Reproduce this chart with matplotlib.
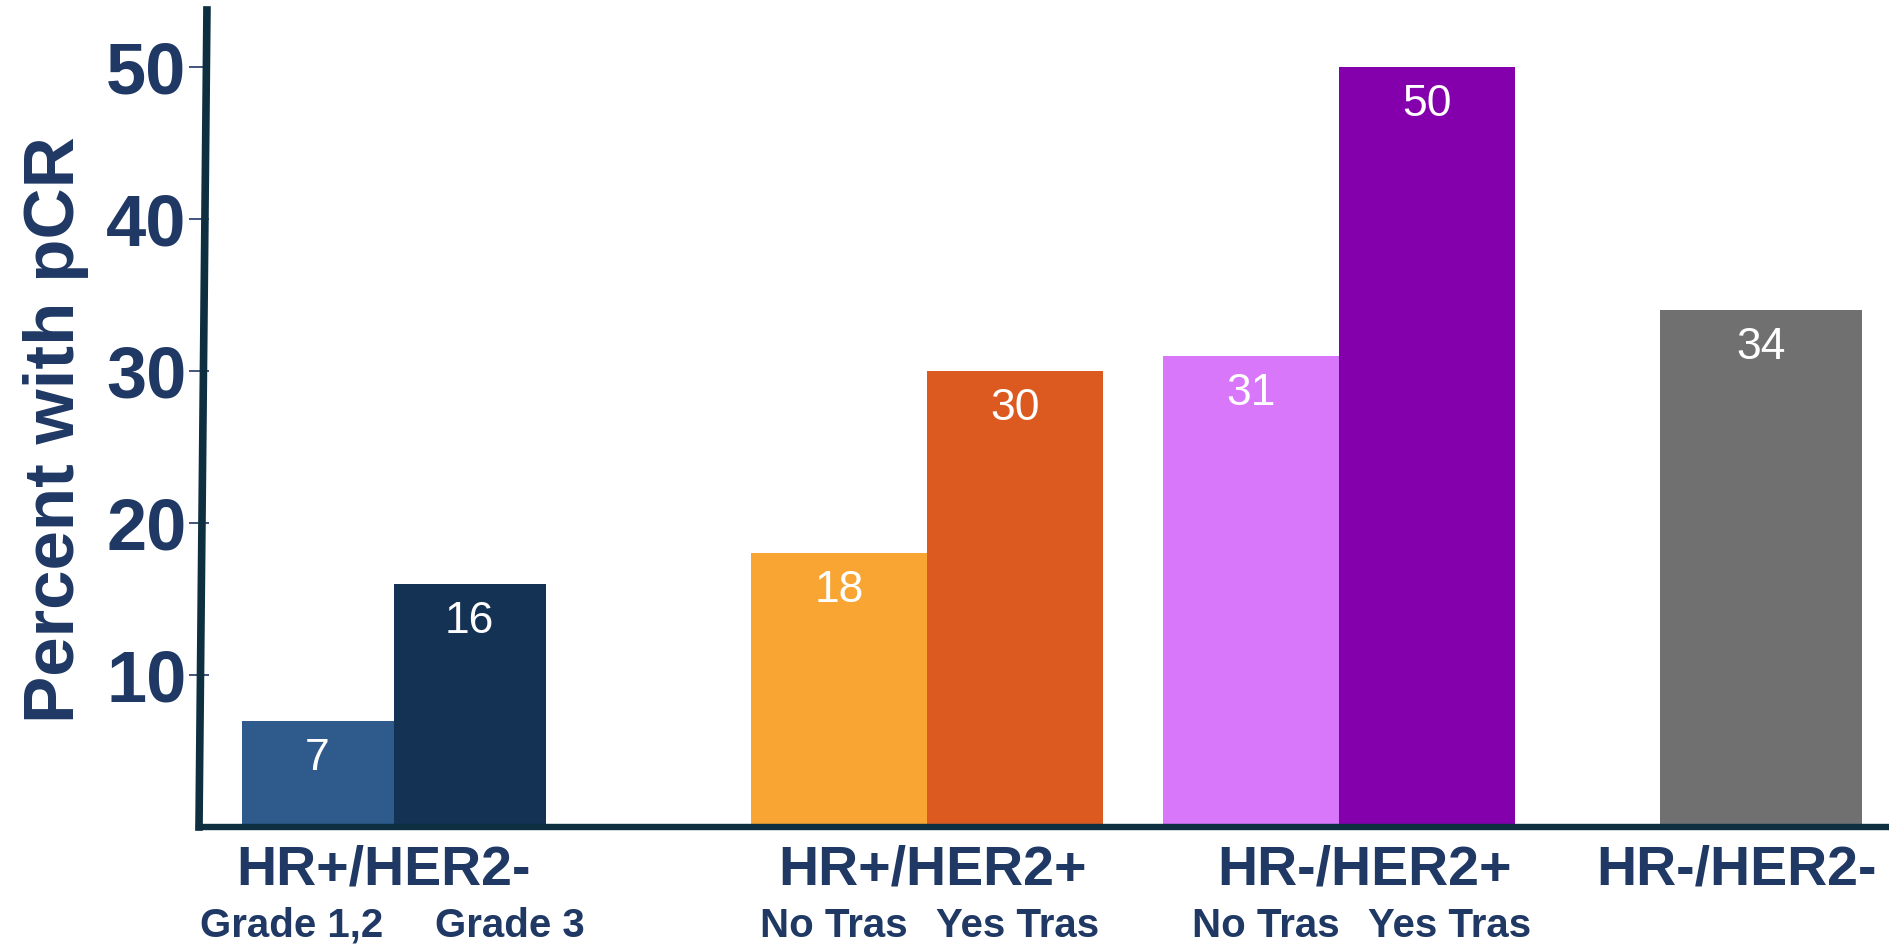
import matplotlib.pyplot as plt
from matplotlib.transforms import blended_transform_factory

# pCR rates by subtype
groups = ['HR+/HER2-', 'HR+/HER2+', 'HR-/HER2+', 'HR-/HER2-']
sub_labels = [['Grade 1,2', 'Grade 3'], ['No Tras', 'Yes Tras'], ['No Tras', 'Yes Tras'], []]
values = [[7, 16], [18, 30], [31, 50], [34]]
colors = [['#2e5a8c', '#133254'], ['#f9a533', '#dc5a20'], ['#d977fb', '#8400ad'], ['#707070']]

yticks = [10, 20, 30, 40, 50]

NAVY = '#1f3864'
AXIS = '#0e2f40'

# layout (x in axis units, 1 unit ~ 100 px)
group_centers = [1.945, 7.28, 11.40, 15.62]
bar_widths = [1.52, 1.76, 1.76, 2.02]
group_label_x = [1.85, 7.34, 11.66, 15.38]
sub_label_x = [[0.93, 3.11], [6.35, 8.19], [10.67, 12.51], []]

fig = plt.figure(figsize=(18.9, 9.48), dpi=100)
ax = fig.add_axes([199 / 1890, 121 / 948, 1691 / 1890, 817 / 948])

for g in range(len(groups)):
    n = len(values[g])
    w = bar_widths[g]
    left = group_centers[g] - n * w / 2
    for i in range(n):
        x = left + (i + 0.5) * w
        ax.bar(x, values[g][i], width=w, color=colors[g][i], zorder=1)
        ax.annotate(str(values[g][i]), (x, values[g][i]), xytext=(0, -27),
                    textcoords='offset points', ha='center', va='center',
                    color='white', fontsize=32, family='Liberation Sans')

trans = blended_transform_factory(ax.transData, ax.transAxes)
for g in range(len(groups)):
    ax.text(group_label_x[g], -0.053, groups[g], transform=trans, ha='center', va='center',
            fontsize=40, fontweight='bold', color=NAVY, family='Liberation Sans')
    for i, s in enumerate(sub_labels[g]):
        ax.text(sub_label_x[g][i], -0.121, s, transform=trans, ha='center', va='center',
                fontsize=29, fontweight='bold', color=NAVY, family='Liberation Sans')

ax.set_xlim(0, 16.91)
ax.set_ylim(0, 53.75)
ax.set_xticks([])
ax.set_yticks(yticks)
ax.set_yticklabels([str(t) for t in yticks], fontsize=52, fontweight='bold',
                   color=NAVY, family='Liberation Sans')
ax.tick_params(axis='y', direction='inout', length=14, width=1.2, color=NAVY, pad=2)

for side in ['top', 'right', 'left']:
    ax.spines[side].set_visible(False)
ax.spines['bottom'].set_linewidth(4.6)
ax.spines['bottom'].set_color(AXIS)
ax.spines['bottom'].set_zorder(3)

# slightly leaning vertical axis line
ax.plot([0, 0.0047], [0, 1], transform=ax.transAxes, color=AXIS, lw=5.5,
        solid_capstyle='projecting', clip_on=False, zorder=3)

fig.text(56 / 1890, 1 - 430 / 948, 'Percent with pCR', rotation=90, ha='center', va='center',
         fontsize=51, fontweight='bold', color=NAVY, family='Liberation Sans')

fig.savefig('out.png', dpi=100)
